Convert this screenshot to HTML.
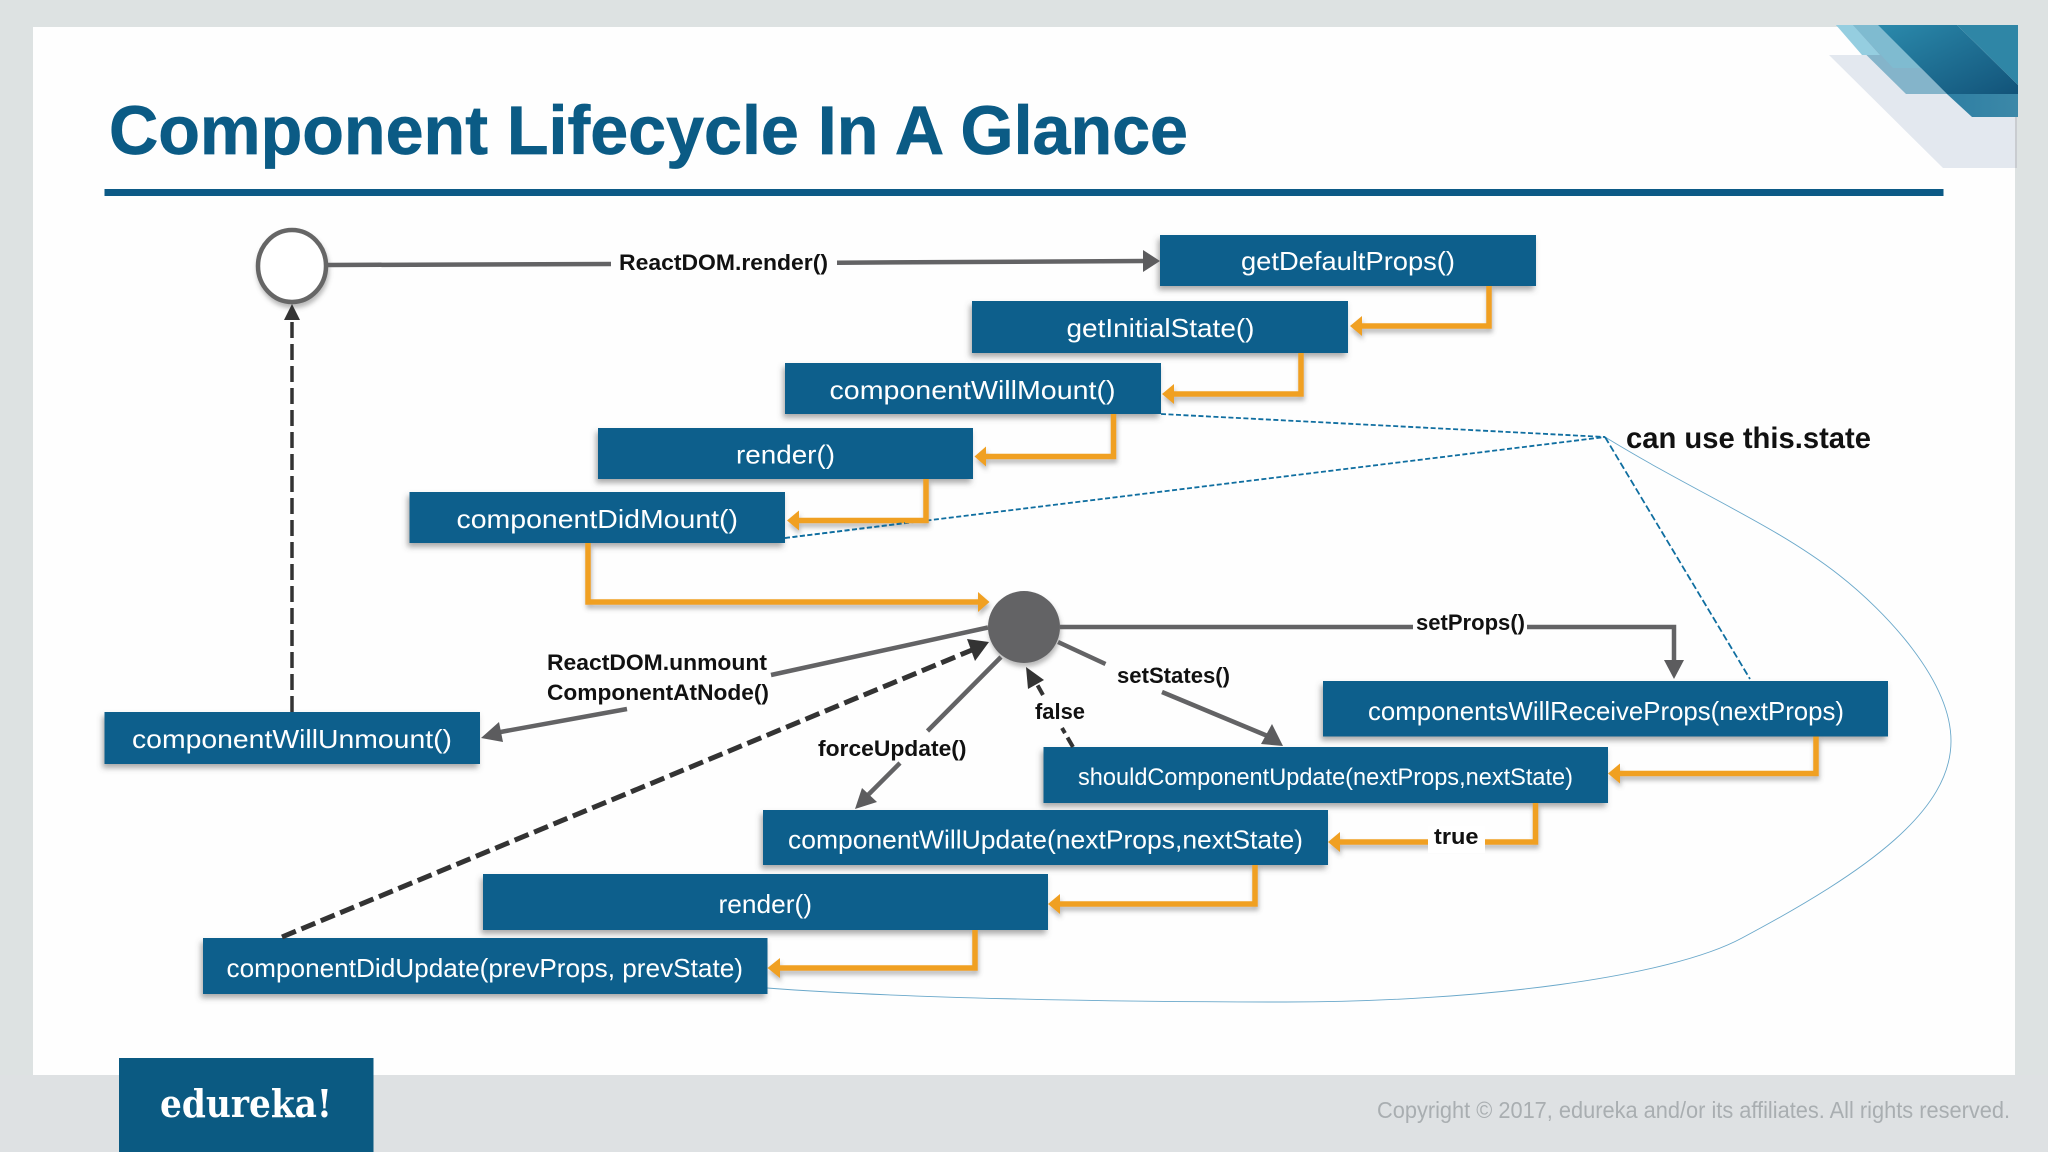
<!DOCTYPE html>
<html>
<head>
<meta charset="utf-8">
<style>
html,body{margin:0;padding:0;background:#dde2e2;}
svg{display:block;}
text{font-family:"Liberation Sans",sans-serif;}
.b{fill:#fff;font-size:26px;}
.l{fill:#111;font-size:22px;font-weight:bold;}
.box{fill:#0d5f8c;}
.o{fill:none;stroke:#f0a020;stroke-width:5.5;stroke-linejoin:miter;}
.g{fill:none;stroke:#636365;stroke-width:4.5;}
</style>
</head>
<body>
<svg width="2048" height="1152" viewBox="0 0 2048 1152" xmlns="http://www.w3.org/2000/svg">
<defs>
<filter id="s" x="-10%" y="-30%" width="120%" height="170%"><feDropShadow dx="-2" dy="4" stdDeviation="3" flood-color="#555" flood-opacity="0.5"/></filter>
<filter id="s2" x="-10%" y="-30%" width="120%" height="170%"><feDropShadow dx="1" dy="4" stdDeviation="2.500" flood-color="#666" flood-opacity="0.45"/></filter>
<linearGradient id="dk" x1="0" y1="0" x2="1" y2="1"><stop offset="0" stop-color="#2b8aac"/><stop offset="1" stop-color="#125379"/></linearGradient>
<linearGradient id="lw" x1="0" y1="0" x2="1" y2="0"><stop offset="0" stop-color="#2e7fa3"/><stop offset="1" stop-color="#3c88a8"/></linearGradient>
</defs>

<rect width="2048" height="1152" fill="#dde2e2"/>
<rect x="0" y="1075" width="2048" height="77" fill="#dee1e3"/>
<rect x="33" y="27" width="1982" height="1048" fill="#fefefe"/>

<!-- corner decoration -->
<polygon points="1829,55 2015,55 2015,168 1943,168" fill="#e3e8ef"/>
<rect x="2015" y="117" width="2" height="51" fill="#c9ccd0"/>
<polygon points="1836,25 1878,25 1947,94 1906,94" fill="#84b4ca"/>
<polygon points="1836,25 1853,25 1880,55 1862,55" fill="#95cee0"/>
<polygon points="1853,25 1878,25 1923,68 1893,68" fill="#7fbbd0"/>
<polygon points="1947,94 2018,94 2018,117 1972,117" fill="url(#lw)"/>
<polygon points="1878,25 1957,25 2018,85 2018,94 1947,94" fill="url(#dk)"/>
<polygon points="1957,25 2018,25 2018,85" fill="#2f86a6"/>

<!-- title -->
<text x="109" y="154" font-size="69" font-weight="bold" fill="#0b5b85" stroke="#0b5b85" stroke-width="0.700" textLength="1079" lengthAdjust="spacingAndGlyphs">Component Lifecycle In A Glance</text>
<rect x="104.500" y="189" width="1839" height="7" fill="#0c5a86"/>

<!-- thin curve -->
<path d="M1605 437 C1700 495 1775 525 1839 575 C1885 611 1951 680 1951 741 C1951 810 1870 870 1742 938 C1670 977 1480 1002 1285 1002 C1100 1002 900 998 767 988" fill="none" stroke="#6aa8ca" stroke-width="0.900"/>

<!-- blue dashed -->
<g fill="none" stroke="#0f6ea0" stroke-width="1.800" stroke-dasharray="5 2.500">
<line x1="1161" y1="414" x2="1605" y2="437"/>
<line x1="785" y1="538" x2="1605" y2="437"/>
<line x1="1605" y1="437" x2="1750" y2="679" stroke-dasharray="7 3"/>
</g>

<!-- boxes -->
<g filter="url(#s)">
<rect class="box" x="1160" y="235" width="376" height="51"/>
<rect class="box" x="972" y="301" width="376" height="52"/>
<rect class="box" x="785" y="363" width="376" height="51"/>
<rect class="box" x="598" y="428" width="375" height="51"/>
<rect class="box" x="409.500" y="492" width="375.500" height="51"/>
<rect class="box" x="104.500" y="712" width="375.500" height="52"/>
<rect class="box" x="1323" y="681" width="565" height="55.500"/>
<rect class="box" x="1043.500" y="747" width="564.500" height="56"/>
<rect class="box" x="763" y="810" width="565" height="55"/>
<rect class="box" x="483" y="874" width="565" height="56"/>
<rect class="box" x="203" y="938" width="564.500" height="56"/>
</g>

<!-- orange connectors -->
<g filter="url(#s2)">
<path class="o" d="M1489 286V326H1362"/><polygon points="1350,326 1362,316 1362,336" fill="#f0a020"/>
<path class="o" d="M1301 353V394H1174"/><polygon points="1162,394 1174,384 1174,404" fill="#f0a020"/>
<path class="o" d="M1113.500 414V456.500H986"/><polygon points="974.500,456.500 986,446.500 986,466.500" fill="#f0a020"/>
<path class="o" d="M926 479V520.500H799"/><polygon points="787,520.500 799,510.500 799,530.500" fill="#f0a020"/>
<path class="o" d="M588 543V602H978"/><polygon points="989.500,602 978,592 978,612" fill="#f0a020"/>
<path class="o" d="M1816 736.500V773.500H1620"/><polygon points="1608,773.500 1620,763.500 1620,783.500" fill="#f0a020"/>
<path class="o" d="M1535.500 803V842H1340"/><polygon points="1328,842 1340,832 1340,852" fill="#f0a020"/>
<path class="o" d="M1255 865V904H1060"/><polygon points="1048,904 1060,894 1060,914" fill="#f0a020"/>
<path class="o" d="M975 930V968H780"/><polygon points="767.500,968 780,958 780,978" fill="#f0a020"/>
</g>
<rect x="1428" y="826" width="57" height="27" fill="#fff"/>
<line x1="785" y1="538" x2="905" y2="523" stroke="#0f6ea0" stroke-width="1.800" stroke-dasharray="5 2.500" opacity="0.9"/>

<!-- circles -->
<g filter="url(#s2)">
<ellipse cx="292" cy="266" rx="34" ry="36" fill="#fff" stroke="#666" stroke-width="4.500"/>
<circle cx="1024" cy="627" r="36" fill="#636365"/>
</g>

<!-- grey lines -->
<path class="g" d="M328 265L611 264M837 262.700L1146 261"/><polygon points="1160,261 1143,250 1143,272" fill="#5c5c5e"/>
<path class="g" d="M1060 627H1413M1527 627H1674V664"/><polygon points="1674,679 1664,660 1684,660" fill="#5c5c5e"/>
<path class="g" d="M1058 642L1105.500 664M1162 692L1270 737"/><polygon points="1283,746 1261,744 1272,724" fill="#5c5c5e"/>
<path class="g" d="M988 627.500L771 675M627 709L495 733"/><polygon points="481,738 499,722 503,742" fill="#5c5c5e"/>
<path class="g" d="M1001 657L927.500 731M900 763L865 798"/><polygon points="855,809 862,788 877,802" fill="#5c5c5e"/>

<!-- dashed dark -->
<line x1="292" y1="712" x2="292" y2="318" stroke="#333" stroke-width="3.500" stroke-dasharray="16 6"/>
<polygon points="292,304 284,320 300,320" fill="#333"/>
<line x1="282" y1="937" x2="972" y2="650" stroke="#333" stroke-width="5" stroke-dasharray="15 6"/>
<polygon points="989,642 967,639 975,661" fill="#333"/>
<path d="M1073 747L1062 728M1043 695L1034 679" fill="none" stroke="#333" stroke-width="4" stroke-dasharray="11 5"/>
<polygon points="1026,667 1028,689 1044,680" fill="#333"/>

<!-- box labels -->
<text class="b" x="1241" y="270" textLength="214" lengthAdjust="spacingAndGlyphs">getDefaultProps()</text>
<text class="b" x="1066.500" y="337" textLength="188" lengthAdjust="spacingAndGlyphs">getInitialState()</text>
<text class="b" x="829.500" y="399" textLength="286" lengthAdjust="spacingAndGlyphs">componentWillMount()</text>
<text class="b" x="736" y="463.500" textLength="99" lengthAdjust="spacingAndGlyphs">render()</text>
<text class="b" x="456.500" y="528" textLength="281.500" lengthAdjust="spacingAndGlyphs">componentDidMount()</text>
<text class="b" x="132" y="748" textLength="320" lengthAdjust="spacingAndGlyphs">componentWillUnmount()</text>
<text class="b" x="1368" y="720" textLength="476" lengthAdjust="spacingAndGlyphs">componentsWillReceiveProps(nextProps)</text>
<text class="b" x="1078" y="785" style="font-size:24px" textLength="495" lengthAdjust="spacingAndGlyphs">shouldComponentUpdate(nextProps,nextState)</text>
<text class="b" x="788" y="848.500" textLength="515" lengthAdjust="spacingAndGlyphs">componentWillUpdate(nextProps,nextState)</text>
<text class="b" x="718.500" y="913" textLength="93.500" lengthAdjust="spacingAndGlyphs">render()</text>
<text class="b" x="226.500" y="977" textLength="516.500" lengthAdjust="spacingAndGlyphs">componentDidUpdate(prevProps, prevState)</text>

<!-- connector labels -->
<text class="l" x="619" y="270" textLength="209" lengthAdjust="spacingAndGlyphs">ReactDOM.render()</text>
<text x="1626" y="448" fill="#111" font-size="30" font-weight="bold" textLength="245" lengthAdjust="spacingAndGlyphs">can use this.state</text>
<text class="l" x="1416" y="630" textLength="109" lengthAdjust="spacingAndGlyphs">setProps()</text>
<text class="l" x="1117" y="683" textLength="113" lengthAdjust="spacingAndGlyphs">setStates()</text>
<text class="l" x="1035" y="719" textLength="50" lengthAdjust="spacingAndGlyphs">false</text>
<text class="l" x="1434" y="844" textLength="44.500" lengthAdjust="spacingAndGlyphs">true</text>
<text class="l" x="547" y="670" textLength="220" lengthAdjust="spacingAndGlyphs">ReactDOM.unmount</text>
<text class="l" x="547" y="700" textLength="222" lengthAdjust="spacingAndGlyphs">ComponentAtNode()</text>
<text class="l" x="818" y="756" textLength="148.500" lengthAdjust="spacingAndGlyphs">forceUpdate()</text>

<!-- footer -->
<rect x="119" y="1058" width="254.500" height="94" fill="#0b5a82"/>
<text x="160" y="1117" fill="#fff" style="font-family:'DejaVu Serif',serif" font-size="38" font-weight="bold" textLength="172" lengthAdjust="spacingAndGlyphs">edureka!</text>
<text x="1377" y="1118" fill="#a9aeb1" font-size="23" textLength="633" lengthAdjust="spacingAndGlyphs">Copyright © 2017, edureka and/or its affiliates. All rights reserved.</text>
</svg>
</body>
</html>
